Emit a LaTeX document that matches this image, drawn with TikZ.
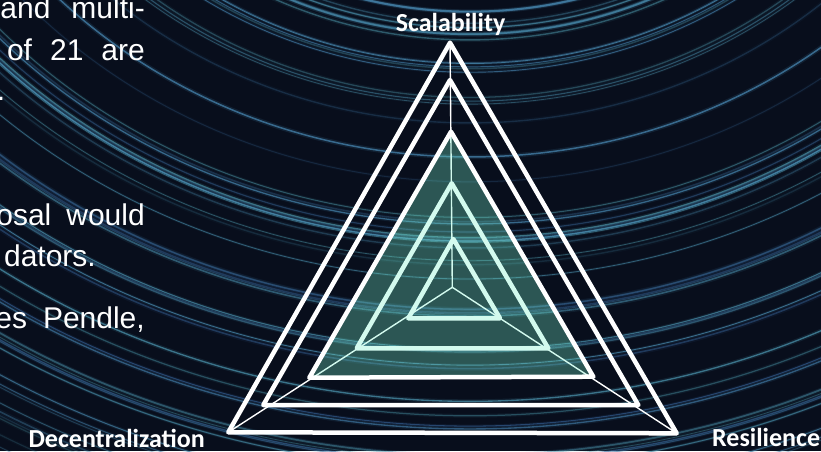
\documentclass[tikz,border=0pt]{standalone}
\usepackage{fontspec}
\setmainfont{Liberation Sans}
\newfontfamily\labelfont{Carlito}
\definecolor{night}{RGB}{8,14,28}
\definecolor{trailblue}{RGB}{55,100,155}
\definecolor{trailteal}{RGB}{78,155,170}
\definecolor{seriesfill}{RGB}{120,240,205}
\begin{document}
\begin{tikzpicture}[x=1pt,y=-1pt,
  grid/.style={draw=white,line width=4.5pt,line join=round},
  spoke/.style={draw=white,line width=1.4pt},
  series/.style={grid,fill=seriesfill,fill opacity=0.32},
  para/.style={text=white,font=\fontsize{30}{36}\selectfont,inner sep=0pt,anchor=base east},
  axislabel/.style={text=white,font=\labelfont\bfseries\fontsize{26}{30}\selectfont,inner sep=0pt}]

\useasboundingbox (0,0) rectangle (821,451);
\fill[night] (0,0) rectangle (821,451);

% star trails: slightly flattened concentric arcs around a pole above the frame
\pgfmathsetseed{23}
\begin{scope}
  \clip (0,0) rectangle (821,451);
  \foreach \k in {1,...,68}{
    \pgfmathsetmacro{\R}{385+560*rnd}
    \pgfmathsetmacro{\Rx}{1.08*\R}
    \pgfmathtruncatemacro{\mix}{100*rnd}
    \pgfmathsetmacro{\op}{0.2+0.7*rnd}
    \pgfmathsetmacro{\w}{0.7+0.9*rnd}
    \pgfmathsetmacro{\glow}{3*\w}
    \pgfmathsetmacro{\gop}{0.2*\op}
    \draw[trailteal!\mix!trailblue,line width=\glow pt,draw opacity=\gop]
      (470,-380) circle[x radius=\Rx pt,y radius=\R pt];
    \draw[trailteal!\mix!trailblue,line width=\w pt,draw opacity=\op]
      (470,-380) circle[x radius=\Rx pt,y radius=\R pt];
  }
\end{scope}

% radar chart: centre and the three axis ends of each ring
\coordinate (o)  at (452.3,287.3);
\coordinate (s5) at (450,42.7);   \coordinate (d5) at (228.3,432.3); \coordinate (r5) at (676.7,433.3);
\coordinate (s4) at (450,80);     \coordinate (d4) at (263.3,405);   \coordinate (r4) at (638.3,405);
\coordinate (s3) at (451,131.7);  \coordinate (d3) at (309.3,377.7); \coordinate (r3) at (593.3,376.7);
\coordinate (s2) at (451.7,183.3);\coordinate (d2) at (356.7,348.3); \coordinate (r2) at (548.3,348.3);
\coordinate (s1) at (453.3,239);  \coordinate (d1) at (408.3,318.3); \coordinate (r1) at (500,318.3);

\draw[grid] (s5) -- (d5) -- (r5) -- cycle;
\draw[grid] (s4) -- (d4) -- (r4) -- cycle;
\draw[grid] (s2) -- (d2) -- (r2) -- cycle;
\draw[grid] (s1) -- (d1) -- (r1) -- cycle;
\draw[spoke] (o) -- (s5);
\draw[spoke] (o) -- (d5);
\draw[spoke] (o) -- (r5);
\draw[series] (s3) -- (d3) -- (r3) -- cycle;

% axis labels
\node[axislabel,anchor=base] (lblS) at (450.5,31) {Scalability};
\node[axislabel,anchor=base east] (lblD) at (205,447) {Decentralization};
\node[axislabel,anchor=base west] (lblR) at (712,446) {Resilience};

% running text at the left edge
\node[para] (p1) at (145,18) {and\hspace{21pt}multi-};
\node[para] (p2) at (145,60) {of\hspace{18pt}21\hspace{18pt}are};
\node[para] (p3) at (5.5,100) {.};
\node[para] (p4) at (145,225) {osal\hspace{15pt}would};
\node[para] (p5) at (96,266) {dators.};
\node[para] (p6) at (145,328) {es\hspace{16pt}Pendle,};
\end{tikzpicture}
\end{document}
